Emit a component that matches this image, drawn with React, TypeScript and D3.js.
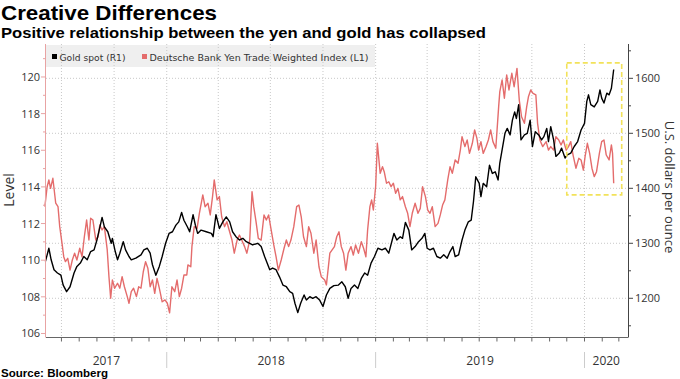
import React from 'react';
import * as d3 from 'd3';

// ---------- DATA ----------
const goldDates = [
  '2017-06-03','2017-06-09','2017-06-13','2017-06-18','2017-06-24','2017-06-30','2017-07-04','2017-07-10','2017-07-16','2017-07-23',
  '2017-07-28','2017-08-03','2017-08-09','2017-08-15','2017-08-21','2017-08-27','2017-09-01','2017-09-05','2017-09-10','2017-09-14',
  '2017-09-20','2017-09-26','2017-09-28','2017-10-03','2017-10-07','2017-10-11','2017-10-17','2017-10-21','2017-10-27','2017-10-31',
  '2017-11-08','2017-11-17','2017-11-22','2017-11-28','2017-12-03','2017-12-07','2017-12-13','2017-12-19','2017-12-24','2017-12-30',
  '2018-01-05','2018-01-11','2018-01-17','2018-01-22','2018-01-27','2018-01-31','2018-02-06','2018-02-10','2018-02-16','2018-02-20',
  '2018-02-24','2018-03-02','2018-03-11','2018-03-20','2018-03-23','2018-03-28','2018-04-03','2018-04-09','2018-04-15','2018-04-21',
  '2018-04-26','2018-05-02','2018-05-08','2018-05-14','2018-05-20','2018-05-26','2018-05-31','2018-06-09','2018-06-15','2018-06-21',
  '2018-06-30','2018-07-05','2018-07-11','2018-07-17','2018-07-23','2018-07-29','2018-08-04','2018-08-09','2018-08-13','2018-08-18',
  '2018-08-23','2018-08-29','2018-09-02','2018-09-08','2018-09-13','2018-09-19','2018-09-25','2018-10-01','2018-10-07','2018-10-13',
  '2018-10-20','2018-10-28','2018-11-03','2018-11-09','2018-11-14','2018-11-19','2018-11-25','2018-12-01','2018-12-07','2018-12-13',
  '2018-12-18','2018-12-24','2018-12-30','2019-01-05','2019-01-12','2019-01-18','2019-01-24','2019-01-30','2019-02-02','2019-02-07',
  '2019-02-13','2019-02-17','2019-02-22','2019-02-28','2019-03-05','2019-03-11','2019-03-17','2019-03-23','2019-03-28','2019-04-01',
  '2019-04-06','2019-04-12','2019-04-18','2019-04-24','2019-04-30','2019-05-06','2019-05-11','2019-05-16','2019-05-20','2019-05-26',
  '2019-06-01','2019-06-06','2019-06-12','2019-06-17','2019-06-21','2019-06-25','2019-07-01','2019-07-04','2019-07-08','2019-07-14',
  '2019-07-19','2019-07-24','2019-07-29','2019-08-03','2019-08-06','2019-08-10','2019-08-15','2019-08-19','2019-08-24','2019-08-28',
  '2019-09-01','2019-09-04','2019-09-08','2019-09-12','2019-09-18','2019-09-23','2019-09-28','2019-10-02','2019-10-07','2019-10-13',
  '2019-10-18','2019-10-22','2019-10-27','2019-10-30','2019-11-03','2019-11-08','2019-11-12','2019-11-18','2019-11-22','2019-11-28',
  '2019-12-02','2019-12-08','2019-12-14','2019-12-20','2019-12-26','2020-01-01','2020-01-05','2020-01-08','2020-01-12','2020-01-18',
  '2020-01-24','2020-01-28','2020-01-31','2020-02-04','2020-02-09','2020-02-13','2020-02-17','2020-02-21',
];
const goldValues = [
  1267,1291,1270,1252,1246,1242,1224,1212,1221,1246,
  1258,1264,1276,1270,1285,1288,1306,1324,1347,1330,
  1321,1300,1309,1285,1270,1282,1303,1288,1276,1270,
  1273,1279,1288,1291,1282,1261,1242,1258,1276,1300,
  1318,1321,1333,1339,1356,1342,1330,1321,1352,1333,
  1318,1324,1321,1318,1312,1352,1327,1339,1348,1339,
  1321,1312,1306,1309,1303,1300,1297,1300,1294,1276,
  1252,1255,1252,1239,1224,1221,1212,1209,1191,1174,
  1191,1206,1197,1203,1200,1203,1197,1185,1206,1218,
  1223,1224,1230,1221,1200,1218,1224,1218,1236,1246,
  1242,1264,1276,1291,1288,1291,1282,1306,1318,1306,
  1312,1309,1338,1324,1288,1294,1303,1309,1318,1291,
  1288,1291,1276,1273,1279,1273,1285,1294,1276,1279,
  1306,1324,1339,1342,1376,1421,1409,1385,1409,1403,
  1442,1427,1430,1415,1446,1470,1500,1509,1497,1524,
  1539,1527,1552,1488,1497,1500,1524,1476,1503,1497,
  1488,1494,1509,1485,1512,1488,1458,1464,1473,1455,
  1461,1464,1476,1485,1506,1518,1558,1570,1552,1548,
  1558,1579,1564,1555,1573,1570,1582,1616,
];

const yenDates = [
  '2017-06-02','2017-06-06','2017-06-09','2017-06-12','2017-06-16','2017-06-21','2017-06-25','2017-06-28','2017-07-02','2017-07-05',
  '2017-07-08','2017-07-12','2017-07-16','2017-07-20','2017-07-24','2017-07-28','2017-08-02','2017-08-06','2017-08-10','2017-08-14',
  '2017-08-18','2017-08-21','2017-08-25','2017-08-30','2017-09-03','2017-09-06','2017-09-10','2017-09-14','2017-09-19','2017-09-22',
  '2017-09-25','2017-09-28','2017-10-02','2017-10-07','2017-10-11','2017-10-15','2017-10-19','2017-10-24','2017-10-27','2017-10-31',
  '2017-11-04','2017-11-09','2017-11-13','2017-11-17','2017-11-21','2017-11-25','2017-11-29','2017-12-03','2017-12-07','2017-12-11',
  '2017-12-15','2017-12-19','2017-12-24','2017-12-29','2018-01-02','2018-01-06','2018-01-10','2018-01-15','2018-01-19','2018-01-23',
  '2018-01-27','2018-01-31','2018-02-05','2018-02-07','2018-02-12','2018-02-14','2018-02-18','2018-02-23','2018-02-27','2018-03-05',
  '2018-03-09','2018-03-14','2018-03-18','2018-03-22','2018-03-25','2018-03-30','2018-04-03','2018-04-07','2018-04-12','2018-04-16',
  '2018-04-20','2018-04-25','2018-04-29','2018-05-04','2018-05-08','2018-05-12','2018-05-17','2018-05-21','2018-05-26','2018-05-30',
  '2018-06-02','2018-06-06','2018-06-10','2018-06-15','2018-06-20','2018-06-24','2018-06-28','2018-07-02','2018-07-07','2018-07-11',
  '2018-07-15','2018-07-20','2018-07-25','2018-07-29','2018-08-02','2018-08-06','2018-08-11','2018-08-16','2018-08-20','2018-08-24',
  '2018-08-28','2018-09-02','2018-09-06','2018-09-10','2018-09-15','2018-09-19','2018-09-24','2018-09-28','2018-10-04','2018-10-07',
  '2018-10-13','2018-10-17','2018-10-21','2018-10-25','2018-10-29','2018-11-02','2018-11-06','2018-11-10','2018-11-14','2018-11-19',
  '2018-11-23','2018-11-27','2018-12-02','2018-12-07','2018-12-11','2018-12-15','2018-12-18','2018-12-22','2018-12-25','2018-12-28',
  '2019-01-01','2019-01-04','2019-01-09','2019-01-13','2019-01-16','2019-01-20','2019-01-24','2019-01-28','2019-02-01','2019-02-05',
  '2019-02-09','2019-02-13','2019-02-17','2019-02-22','2019-02-26','2019-03-02','2019-03-06','2019-03-11','2019-03-16','2019-03-20',
  '2019-03-24','2019-03-29','2019-04-02','2019-04-06','2019-04-10','2019-04-15','2019-04-20','2019-04-24','2019-04-28','2019-05-02',
  '2019-05-07','2019-05-11','2019-05-15','2019-05-20','2019-05-25','2019-05-29','2019-06-01','2019-06-06','2019-06-10','2019-06-14',
  '2019-06-19','2019-06-23','2019-06-27','2019-06-30','2019-07-04','2019-07-08','2019-07-13','2019-07-17','2019-07-21','2019-07-25',
  '2019-07-30','2019-08-04','2019-08-06','2019-08-10','2019-08-14','2019-08-18','2019-08-22','2019-08-27','2019-08-31','2019-09-05',
  '2019-09-09','2019-09-13','2019-09-18','2019-09-22','2019-09-25','2019-09-29','2019-10-03','2019-10-08','2019-10-11','2019-10-15',
  '2019-10-20','2019-10-26','2019-10-30','2019-11-03','2019-11-08','2019-11-12','2019-11-17','2019-11-21','2019-11-25','2019-11-30',
  '2019-12-04','2019-12-08','2019-12-12','2019-12-17','2019-12-22','2019-12-26','2019-12-30','2020-01-02','2020-01-06','2020-01-10',
  '2020-01-14','2020-01-18','2020-01-22','2020-01-27','2020-01-31','2020-02-04','2020-02-08','2020-02-13','2020-02-17','2020-02-19',
  '2020-02-21',
];
const yenValues = [
  112.92,114.01,114.38,113.92,114.47,113.11,112.92,111.83,110.92,110.19,
  109.92,110.10,109.46,110.01,110.38,110.01,110.65,110.19,111.28,112.19,
  111.10,112.29,112.19,111.10,111.28,111.92,111.65,111.83,110.56,109.10,
  107.92,108.92,108.47,108.74,108.47,109.10,108.55,108.01,107.65,108.28,
  108.47,108.01,108.55,108.47,109.37,109.92,109.56,108.55,108.92,108.19,
  109.01,108.47,107.73,107.83,107.65,107.13,108.55,108.28,108.92,108.01,
  108.47,109.19,109.19,109.74,109.64,110.74,111.83,111.74,112.56,113.56,
  112.92,113.11,112.47,113.47,114.38,113.29,113.47,112.37,111.83,112.10,
  111.65,111.10,110.38,111.10,111.37,111.10,110.74,110.38,111.10,113.74,
  112.92,112.10,111.19,111.10,112.47,112.19,112.47,111.74,110.83,110.19,
  109.46,110.01,110.65,111.10,110.74,111.10,111.83,112.92,113.01,112.37,
  111.28,110.74,111.83,111.47,110.38,111.10,109.64,109.10,108.92,108.65,
  110.38,110.56,110.74,111.28,111.55,110.74,110.38,109.46,110.38,110.74,
  110.28,110.83,110.38,111.01,110.65,110.19,111.65,112.92,113.29,112.74,
  114.01,116.38,114.74,115.10,114.83,114.20,114.28,114.01,114.20,113.65,
  113.92,113.29,113.47,112.92,112.56,111.83,112.56,113.11,112.56,112.83,
  114.01,113.47,112.74,112.56,112.92,111.83,112.01,112.47,113.01,113.29,
  114.38,115.10,114.74,115.47,115.29,116.01,116.74,116.20,116.56,115.83,
  116.38,117.11,116.65,116.01,116.47,115.83,116.20,116.56,117.11,116.47,
  116.11,118.38,119.20,119.84,118.84,120.11,119.29,120.20,119.47,120.47,
  118.74,117.83,117.47,118.38,118.92,119.29,119.11,119.02,117.47,116.56,
  116.20,116.47,116.01,116.20,116.01,116.74,116.56,116.29,116.56,116.01,
  116.20,116.47,115.74,115.02,115.56,115.47,114.92,115.65,116.38,115.83,
  115.02,114.56,114.83,115.83,116.47,116.56,115.74,115.47,116.29,115.83,
  114.20,
];

const leftTicks = [106, 108, 110, 112, 114, 116, 118, 120];
const leftMinorTicks = [107, 109, 111, 113, 115, 117, 119, 121];
const rightTicks = [1200, 1300, 1400, 1500, 1600];
const rightMinorTicks = [1150, 1250, 1350, 1450, 1550, 1650];
const years = [2017, 2018, 2019, 2020];

const titleText = 'Creative Differences';
const subtitleText = 'Positive relationship between the yen and gold has collapsed';
const legendGold = 'Gold spot (R1)';
const legendYen = 'Deutsche Bank Yen Trade Weighted Index (L1)';
const leftAxisTitle = 'Level';
const rightAxisTitle = 'U.S. dollars per ounce';
const sourceText = 'Source: Bloomberg';

// highlight box (dates, gold price range)
const highlightDates = ['2019-12-01', '2020-03-06'];
const highlightGold = [1388, 1628];

const domainDates = ['2017-06-04', '2020-03-17'];

// ---------- CHART ----------
const W = 680;
const H = 379;
const PL = 46;
const PR = 628;
const PT = 44;
const PB = 337.5;

const parse = d3.utcParse('%Y-%m-%d');

export default function App() {
  const x = d3.scaleUtc().domain(domainDates.map((d) => parse(d) as Date)).range([PL, PR]);
  const yL = d3.scaleLinear().domain([105.78, 121.8]).range([PB, PT]);
  const yR = d3.scaleLinear().domain([1128.7, 1662.4]).range([PB, PT]);

  const gold = goldDates.map((d, i) => [parse(d) as Date, goldValues[i]] as [Date, number]);
  const yen = yenDates.map((d, i) => [parse(d) as Date, yenValues[i]] as [Date, number]);

  const goldLine = d3.line<[Date, number]>().x((d) => x(d[0])).y((d) => yR(d[1]));
  const yenLine = d3.line<[Date, number]>().x((d) => x(d[0])).y((d) => yL(d[1]));

  const [d0, d1] = x.domain();
  const monthTicks = d3.utcMonth.range(d3.utcMonth.ceil(d0), d1);
  const quarterTicks = monthTicks.filter((d) => d.getUTCMonth() % 3 === 0);
  const yearStarts = d3.utcYear.range(d3.utcYear.ceil(d0), d1);

  const yearCenters = years.map((yr) => {
    const s = new Date(Date.UTC(yr, 0, 1));
    const e = new Date(Date.UTC(yr + 1, 0, 1));
    const a = x(s < d0 ? d0 : s);
    const b = x(e > d1 ? d1 : e);
    return { yr, cx: (a + b) / 2 };
  });

  const hx0 = x(parse(highlightDates[0]) as Date);
  const hx1 = x(parse(highlightDates[1]) as Date);
  const hy0 = yR(highlightGold[1]);
  const hy1 = yR(highlightGold[0]);

  const axisFont = '"Open Sans", "Liberation Sans", sans-serif';
  const textColor = '#333';
  const pink = '#e8a3a3';

  return (
    <div style={{ position: 'absolute', left: 0, top: 0 }}>
      <svg width={W} height={H} style={{ display: 'block', background: '#fff' }}>
        {/* titles */}
        <text x={1} y={20} fontFamily='"Liberation Sans", Arial, sans-serif' fontWeight={700} fontSize={21}
          fill="#000" textLength={216} lengthAdjust="spacingAndGlyphs">{titleText}</text>
        <text x={1} y={38} fontFamily='"Liberation Sans", Arial, sans-serif' fontWeight={700} fontSize={15}
          fill="#000" textLength={485} lengthAdjust="spacingAndGlyphs">{subtitleText}</text>

        {/* legend band */}
        <rect x={PL} y={PT + 1} width={375 - PL} height={22} fill="#efefef" />

        {/* gridlines */}
        {rightTicks.map((t) => (
          <line key={'hg' + t} x1={PL} x2={PR} y1={yR(t)} y2={yR(t)} stroke="#c8c8c8" strokeWidth={1} strokeDasharray="1,2" />
        ))}
        {quarterTicks.map((d) => (
          <line key={'vg' + d.getTime()} x1={x(d)} x2={x(d)} y1={PT} y2={PB} stroke="#c8c8c8" strokeWidth={1} strokeDasharray="1,2" />
        ))}

        {/* legend */}
        <rect x={52} y={54} width={5} height={5} fill="#000" />
        <text x={59.5} y={61} fontFamily='"DejaVu Sans", sans-serif' fontSize={9.4} fill={textColor}
          textLength={66} lengthAdjust="spacingAndGlyphs">{legendGold}</text>
        <rect x={142} y={54} width={5} height={5} fill="#e46c6c" />
        <text x={149.5} y={61} fontFamily='"DejaVu Sans", sans-serif' fontSize={9.4} fill={textColor}
          textLength={219} lengthAdjust="spacingAndGlyphs">{legendYen}</text>

        {/* series */}
        <path d={yenLine(yen) || ''} fill="none" stroke="#e46c6c" strokeWidth={1.4} strokeLinejoin="round" />
        <path d={goldLine(gold) || ''} fill="none" stroke="#000" strokeWidth={1.4} strokeLinejoin="round" />

        {/* highlight box */}
        <rect x={hx0} y={hy0} width={hx1 - hx0} height={hy1 - hy0} fill="none" stroke="#f2e25a"
          strokeWidth={1.6} strokeDasharray="5,3" />

        {/* left axis */}
        <line x1={PL - 0.5} x2={PL - 0.5} y1={PT} y2={PB} stroke={pink} strokeWidth={1} />
        {leftTicks.map((t) => (
          <g key={'lt' + t}>
            <line x1={PL - 5} x2={PL} y1={yL(t)} y2={yL(t)} stroke={pink} strokeWidth={1} />
            <text x={PL - 6} y={yL(t) + 4} textAnchor="end" fontFamily={axisFont} fontSize={11} fill={textColor}>{t}</text>
          </g>
        ))}
        {leftMinorTicks.map((t) => (
          <line key={'lm' + t} x1={PL - 3} x2={PL} y1={yL(t)} y2={yL(t)} stroke={pink} strokeWidth={1} />
        ))}
        <text transform={`translate(14,190) rotate(-90)`} textAnchor="middle" fontFamily={axisFont} fontSize={14}
          fill={textColor}>{leftAxisTitle}</text>

        {/* right axis */}
        <line x1={PR + 0.5} x2={PR + 0.5} y1={PT} y2={PB} stroke="#444" strokeWidth={1} />
        {rightTicks.map((t) => (
          <g key={'rt' + t}>
            <line x1={PR} x2={PR + 5} y1={yR(t)} y2={yR(t)} stroke="#444" strokeWidth={1} />
            <text x={PR + 7} y={yR(t) + 4} textAnchor="start" fontFamily={axisFont} fontSize={11} fill={textColor}>{t}</text>
          </g>
        ))}
        {rightMinorTicks.map((t) => (
          <line key={'rm' + t} x1={PR} x2={PR + 3} y1={yR(t)} y2={yR(t)} stroke="#444" strokeWidth={1} />
        ))}
        <text transform={`translate(665,187) rotate(90)`} textAnchor="middle" fontFamily={axisFont} fontSize={13}
          fill={textColor}>{rightAxisTitle}</text>

        {/* bottom axis */}
        <line x1={PL} x2={PR} y1={PB} y2={PB} stroke="#666" strokeWidth={1} />
        {monthTicks.map((d) => (
          <line key={'mt' + d.getTime()} x1={x(d)} x2={x(d)} y1={PB} y2={PB + 4} stroke="#666" strokeWidth={1} />
        ))}
        {yearStarts.map((d) => (
          <line key={'ys' + d.getTime()} x1={x(d)} x2={x(d)} y1={352} y2={368} stroke="#ccc" strokeWidth={1} />
        ))}
        {yearCenters.map((y) => (
          <text key={'yl' + y.yr} x={y.cx} y={365} textAnchor="middle" fontFamily={axisFont} fontSize={12}
            fill={textColor}>{y.yr}</text>
        ))}

        {/* source */}
        <text x={1} y={377} fontFamily='"Liberation Sans", Arial, sans-serif' fontWeight={700} fontSize={10.5}
          fill="#000" textLength={107} lengthAdjust="spacingAndGlyphs">{sourceText}</text>
      </svg>
    </div>
  );
}
